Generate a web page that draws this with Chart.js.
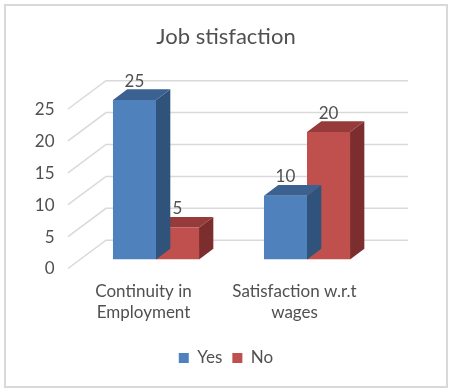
<!DOCTYPE html>
<html lang="en">
<head>
<meta charset="UTF-8">
<title>Job stisfaction</title>
<script src="https://cdn.jsdelivr.net/npm/chart.js@4.4.0/dist/chart.umd.min.js"></script>
<style>
    body { margin: 0; background: #fff; }
    #frame { position: absolute; left: 4px; top: 4px; width: 440px; height: 380px; border: 2px solid #d9d9d9; }
    #chart { position: absolute; left: 0; top: 0; }
</style>
</head>
<body>
<div id="frame"></div>
<canvas id="chart" width="452" height="392"></canvas>
<script>
    // data
    const categories = [['Continuity in', 'Employment'], ['Satisfaction w.r.t', 'wages']];
    const yesValues = [25, 10];
    const noValues = [5, 20];
    const yTicks = [0, 5, 10, 15, 20, 25];

    const textColor = '#505050';
    const fontFamily = 'Lato, "Open Sans", sans-serif';

    // fake 3D: offsets of the back wall, the front floor edge and the bar depth
    const BACK = { dx: 25.5, dy: -19.3 };
    const FRONT = { dx: -12.5, dy: 9 };
    const DEPTH = { dx: 14.3, dy: -10.7 };

    const faceColors = [
        { top: '#3a6190', side: '#30537c' },
        { top: '#963b39', side: '#7b2e2d' }
    ];

    const wallPlugin = {
        id: 'wall',
        beforeDatasetsDraw(chart) {
            const ctx = chart.ctx;
            const area = chart.chartArea;
            const y = chart.scales.y;
            ctx.save();
            ctx.strokeStyle = '#d9d9d9';
            ctx.lineWidth = 1.5;
            yTicks.forEach(v => {
                const py = y.getPixelForValue(v);
                ctx.beginPath();
                ctx.moveTo(area.left + FRONT.dx, py + FRONT.dy);
                ctx.lineTo(area.left + BACK.dx, py + BACK.dy);
                ctx.lineTo(area.right + BACK.dx, py + BACK.dy);
                ctx.stroke();
            });
            ctx.restore();
        },
        beforeDatasetDraw(chart, args) {
            const ctx = chart.ctx;
            const colors = faceColors[args.index];
            const meta = chart.getDatasetMeta(args.index);
            ctx.save();
            meta.data.forEach(bar => {
                const p = bar.getProps(['x', 'y', 'width', 'base'], true);
                const l = p.x - p.width / 2, r = p.x + p.width / 2;
                // side face
                ctx.fillStyle = colors.side;
                ctx.beginPath();
                ctx.moveTo(r, p.y);
                ctx.lineTo(r + DEPTH.dx, p.y + DEPTH.dy);
                ctx.lineTo(r + DEPTH.dx, p.base + DEPTH.dy);
                ctx.lineTo(r, p.base);
                ctx.closePath();
                ctx.fill();
                // top face
                ctx.fillStyle = colors.top;
                ctx.beginPath();
                ctx.moveTo(l, p.y);
                ctx.lineTo(r, p.y);
                ctx.lineTo(r + DEPTH.dx, p.y + DEPTH.dy);
                ctx.lineTo(l + DEPTH.dx, p.y + DEPTH.dy);
                ctx.closePath();
                ctx.fill();
            });
            ctx.restore();
        },
        afterDatasetsDraw(chart) {
            const ctx = chart.ctx;
            ctx.save();
            ctx.fillStyle = textColor;
            ctx.font = '17px ' + fontFamily;
            ctx.textAlign = 'center';
            ctx.textBaseline = 'middle';
            chart.data.datasets.forEach((ds, i) => {
                chart.getDatasetMeta(i).data.forEach((bar, j) => {
                    const p = bar.getProps(['x', 'y'], true);
                    ctx.fillText(ds.data[j], p.x, p.y + DEPTH.dy - 8);
                });
            });
            ctx.restore();
        }
    };

    new Chart(document.getElementById('chart'), {
        type: 'bar',
        data: {
            labels: categories,
            datasets: [
                { label: 'Yes', data: yesValues, backgroundColor: '#4f81bd', borderWidth: 0 },
                { label: 'No', data: noValues, backgroundColor: '#c0504d', borderWidth: 0 }
            ]
        },
        options: {
            responsive: false,
            animation: false,
            layout: { padding: { left: 0, right: 0, top: 0, bottom: 15.5 } },
            datasets: { bar: { categoryPercentage: 0.57, barPercentage: 1 } },
            plugins: {
                title: {
                    display: true,
                    text: 'Job stisfaction',
                    color: textColor,
                    font: { family: fontFamily, size: 22, weight: 'normal' },
                    padding: { top: 24, bottom: 49.6 }
                },
                legend: {
                    position: 'bottom',
                    labels: {
                        color: textColor,
                        boxWidth: 10,
                        boxHeight: 10,
                        padding: 10,
                        font: { family: fontFamily, size: 17 }
                    }
                },
                tooltip: { enabled: false }
            },
            scales: {
                x: {
                    grid: { display: false },
                    border: { display: false },
                    ticks: {
                        color: textColor,
                        font: { family: fontFamily, size: 17 },
                        padding: 14,
                        labelOffset: -12.5,
                        maxRotation: 0
                    },
                    afterFit(scale) { scale.height = 80; }
                },
                y: {
                    min: 0,
                    max: 25,
                    grid: { display: false, drawTicks: false },
                    border: { display: false },
                    ticks: {
                        stepSize: 5,
                        color: textColor,
                        font: { family: fontFamily, size: 17 },
                        padding: 26,
                        labelOffset: 9.5
                    },
                    afterFit(scale) { scale.width = 80.5; }
                },
                // empty right axis: keeps room for the wall depth
                yRight: {
                    position: 'right',
                    grid: { display: false },
                    border: { display: false },
                    ticks: { display: false },
                    afterFit(scale) { scale.width = 69.5; }
                }
            }
        },
        plugins: [wallPlugin]
    });
</script>
</body>
</html>
